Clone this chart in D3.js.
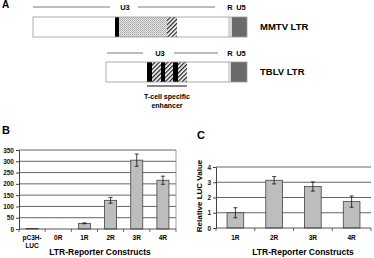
<!DOCTYPE html>
<html>
<head>
<meta charset="utf-8">
<script src="https://cdn.jsdelivr.net/npm/d3@7"></script>
<style>
  body { margin: 0; background: #fff; }
  svg { display: block; font-family: "Liberation Sans", Arial, sans-serif; font-weight: bold; }
</style>
</head>
<body>
<svg id="fig" width="374" height="258"></svg>
<script>
// panel B data
const catsB = ["pC3H-LUC", "0R", "1R", "2R", "3R", "4R"];
const valsB = [2, 0, 25, 127, 305, 216];
const errB = [0, 0, 2, 13, 27, 18];
const ticksB = [0, 50, 100, 150, 200, 250, 300, 350];

// panel C data
const catsC = ["1R", "2R", "3R", "4R"];
const valsC = [1.0, 3.13, 2.72, 1.73];
const errC = [0.33, 0.24, 0.3, 0.37];
const ticksC = [0, 1, 2, 3, 4];

// panel A: LTR segments, in units along the LTR (0 = MMTV start)
const mmtvSegs = [
    { from: 0, to: 82, kind: "plain" },
    { from: 82, to: 86, kind: "black" },
    { from: 86, to: 134, kind: "stipple" },
    { from: 134, to: 144, kind: "hatch" },
    { from: 144, to: 195, kind: "plain" },
    { from: 195, to: 199, kind: "light" },
    { from: 199, to: 214, kind: "dark" }
];
const tblvSegs = [
    { from: 73, to: 114, kind: "plain" },
    { from: 114, to: 119, kind: "black" },
    { from: 119, to: 128, kind: "hatch" },
    { from: 128, to: 132, kind: "black" },
    { from: 132, to: 140, kind: "hatch" },
    { from: 140, to: 145, kind: "black" },
    { from: 145, to: 154, kind: "hatch" },
    { from: 154, to: 195, kind: "plain" },
    { from: 195, to: 198, kind: "light" },
    { from: 198, to: 214, kind: "dark" }
];

const svg = d3.select("#fig");
const defs = svg.append("defs");

// hatch pattern
let hp = defs.append("pattern").attr("id", "hatch").attr("patternUnits", "userSpaceOnUse")
    .attr("width", 3).attr("height", 3).attr("patternTransform", "rotate(45)");
hp.append("rect").attr("width", 3).attr("height", 3).attr("fill", "#fff");
hp.append("rect").attr("width", 1.3).attr("height", 3).attr("fill", "#222");

// stipple pattern
let sp = defs.append("pattern").attr("id", "stipple").attr("patternUnits", "userSpaceOnUse")
    .attr("width", 2).attr("height", 2);
sp.append("rect").attr("width", 2).attr("height", 2).attr("fill", "#e4e4e4");
sp.append("rect").attr("width", 1).attr("height", 1).attr("fill", "#a8a8a8");
sp.append("rect").attr("x", 1).attr("y", 1).attr("width", 1).attr("height", 1).attr("fill", "#bbb");

const fills = {
    plain: "#fff", black: "#000", stipple: "url(#stipple)", hatch: "url(#hatch)",
    light: "#d8d8d8", dark: "#6a6a6a"
};

// ---------- panel A ----------
let xA = d3.scaleLinear().domain([0, 214]).range([33, 247]);

svg.append("text").attr("x", 2).attr("y", 8).attr("font-size", 10).text("A");

function drawLtr(segs, yTop, yLabel, u3Left, u3Right, u3x, name) {
    let g = svg.append("g");
    // header lines with U3, R, U5
    g.append("line").attr("x1", xA(u3Left[0])).attr("x2", xA(u3Left[1]))
        .attr("y1", yLabel).attr("y2", yLabel).attr("stroke", "#555").attr("stroke-width", 0.8);
    g.append("line").attr("x1", xA(u3Right[0])).attr("x2", xA(u3Right[1]))
        .attr("y1", yLabel).attr("y2", yLabel).attr("stroke", "#555").attr("stroke-width", 0.8);
    g.append("text").attr("x", xA(u3x)).attr("y", yLabel + 3).attr("font-size", 7.5)
        .attr("text-anchor", "middle").text("U3");
    g.append("text").attr("x", xA(197)).attr("y", yLabel + 3).attr("font-size", 7.5)
        .attr("text-anchor", "middle").text("R");
    g.append("text").attr("x", xA(208)).attr("y", yLabel + 3).attr("font-size", 7.5)
        .attr("text-anchor", "middle").text("U5");

    g.selectAll("rect.seg").data(segs).enter().append("rect")
        .attr("class", "seg")
        .attr("x", d => xA(d.from))
        .attr("y", yTop)
        .attr("width", d => xA(d.to) - xA(d.from))
        .attr("height", 20)
        .attr("fill", d => fills[d.kind]);
    g.append("rect").attr("x", xA(segs[0].from)).attr("y", yTop)
        .attr("width", xA(214) - xA(segs[0].from)).attr("height", 20)
        .attr("fill", "none").attr("stroke", "#999").attr("stroke-width", 0.8);
    g.append("text").attr("x", 260).attr("y", yTop + 13).attr("font-size", 9.5).text(name);
}

drawLtr(mmtvSegs, 17, 7, [0, 77], [105, 182], 92, "MMTV LTR");
drawLtr(tblvSegs, 62, 53, [74, 110], [141, 185], 127, "TBLV LTR");

// enhancer bracket
svg.append("line").attr("x1", xA(114)).attr("x2", xA(154)).attr("y1", 86).attr("y2", 86)
    .attr("stroke", "#111").attr("stroke-width", 1.2);
svg.append("text").attr("x", xA(134)).attr("y", 99).attr("font-size", 7)
    .attr("text-anchor", "middle").text("T-cell specific");
svg.append("text").attr("x", xA(134)).attr("y", 108).attr("font-size", 7)
    .attr("text-anchor", "middle").text("enhancer");

// ---------- bar chart helper ----------
function barChart(opts) {
    let g = svg.append("g");
    let x = d3.scaleBand().domain(opts.cats).range([opts.x0, opts.x1]).paddingInner(0);
    let y = d3.scaleLinear().domain([0, opts.ymax]).range([opts.y0, opts.y1]);

    // gridlines
    g.selectAll("line.grid").data(opts.ticks.filter(t => t > 0)).enter().append("line")
        .attr("x1", opts.x0).attr("x2", opts.x1)
        .attr("y1", d => y(d)).attr("y2", d => y(d))
        .attr("stroke", "#555").attr("stroke-width", 0.9);
    if (opts.rightBorder) {
        g.append("line").attr("x1", opts.x1).attr("x2", opts.x1)
            .attr("y1", opts.y1).attr("y2", opts.y0).attr("stroke", "#888").attr("stroke-width", 0.8);
    }

    // bars
    let bw = x.bandwidth() * opts.barFrac;
    g.selectAll("rect.bar").data(opts.vals).enter().append("rect")
        .attr("class", "bar")
        .attr("x", (d, i) => x(opts.cats[i]) + (x.bandwidth() - bw) / 2)
        .attr("y", d => y(d))
        .attr("width", bw)
        .attr("height", d => opts.y0 - y(d))
        .attr("fill", "#bdbdbd")
        .attr("stroke", d => d > 0 ? "#444" : "none")
        .attr("stroke-width", 0.8);

    // error bars
    opts.vals.forEach((v, i) => {
        let e = opts.errs[i];
        if (!e) return;
        let cx = x(opts.cats[i]) + x.bandwidth() / 2;
        g.append("line").attr("x1", cx).attr("x2", cx).attr("y1", y(v - e)).attr("y2", y(v + e))
            .attr("stroke", "#111").attr("stroke-width", 0.8);
        [v - e, v + e].forEach(t => {
            g.append("line").attr("x1", cx - 2).attr("x2", cx + 2).attr("y1", y(t)).attr("y2", y(t))
                .attr("stroke", "#111").attr("stroke-width", 0.8);
        });
    });

    // y axis
    let yAxis = d3.axisLeft(y).tickValues(opts.ticks).tickFormat(d3.format("d")).tickSize(3).tickPadding(2);
    let ya = g.append("g").attr("transform", `translate(${opts.x0},0)`).call(yAxis);
    ya.selectAll("text").attr("font-size", 6.5).attr("font-family", "Liberation Sans, Arial").attr("font-weight", "bold").attr("fill", "#111");
    ya.selectAll("line, path").attr("stroke", "#444");

    // x axis: ticks on band edges
    let xa = g.append("g");
    xa.append("line").attr("x1", opts.x0).attr("x2", opts.x1).attr("y1", opts.y0).attr("y2", opts.y0)
        .attr("stroke", "#444").attr("stroke-width", 0.9);
    let edges = opts.cats.map(c => x(c)).concat([opts.x1]);
    xa.selectAll("line.tk").data(edges).enter().append("line")
        .attr("x1", d => d).attr("x2", d => d).attr("y1", opts.y0).attr("y2", opts.y0 + 3)
        .attr("stroke", "#444").attr("stroke-width", 0.8);
    opts.cats.forEach(c => {
        let parts = c === "pC3H-LUC" ? ["pC3H-", "LUC"] : [c];
        parts.forEach((p, k) => {
            xa.append("text").attr("x", x(c) + x.bandwidth() / 2).attr("y", opts.labelY + k * 8)
                .attr("text-anchor", "middle").attr("font-size", 6.5).text(p);
        });
    });

    svg.append("text").attr("x", opts.titleX).attr("y", 255).attr("text-anchor", "middle")
        .attr("font-size", 8.5).text("LTR-Reporter Constructs");
}

// ---------- panel B ----------
svg.append("text").attr("x", 2).attr("y", 134).attr("font-size", 11).text("B");
barChart({
    cats: catsB, vals: valsB, errs: errB, ticks: ticksB, ymax: 350,
    x0: 19, x1: 176, y0: 229, y1: 150, barFrac: 0.46, rightBorder: true,
    labelY: 240, titleX: 100
});

// ---------- panel C ----------
svg.append("text").attr("x", 197).attr("y", 139).attr("font-size", 11).text("C");
barChart({
    cats: catsC, vals: valsC, errs: errC, ticks: ticksC, ymax: 4,
    x0: 216, x1: 371, y0: 228, y1: 167, barFrac: 0.43, rightBorder: false,
    labelY: 240, titleX: 303
});
svg.append("text").attr("transform", "translate(202,196) rotate(-90)")
    .attr("text-anchor", "middle").attr("font-size", 8).text("Relative LUC Value");
</script>
</body>
</html>
